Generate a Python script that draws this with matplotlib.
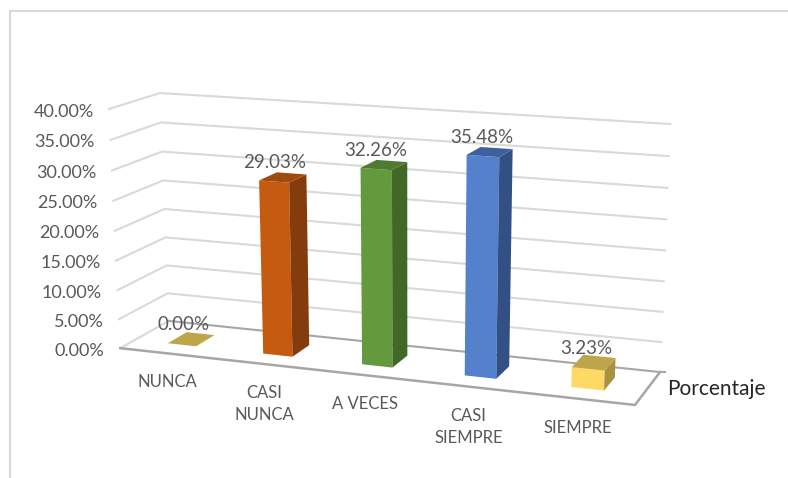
import numpy as np
import matplotlib
matplotlib.use('Agg')
import matplotlib.pyplot as plt
from matplotlib.patches import Polygon

plt.rcParams['font.family'] = ['Lato', 'DejaVu Sans']

# Datos del gráfico
categorias = ['NUNCA', 'CASI\nNUNCA', 'A VECES', 'CASI\nSIEMPRE', 'SIEMPRE']
valores = [0.00, 29.03, 32.26, 35.48, 3.23]
etiquetas = ['0.00%', '29.03%', '32.26%', '35.48%', '3.23%']
ticks_y = [0, 5, 10, 15, 20, 25, 30, 35, 40]
color_frente = ['#FFD966', '#C55A11', '#639A3D', '#5480CC', '#FFD966']
color_lado = ['#A8923F', '#843C0C', '#426827', '#325083', '#A8923F']
color_techo = ['#BFA54A', '#A04A0D', '#4D7B30', '#3E609F', '#BFA54A']
desplaza_cat = [0, -0.5, -0.5, -1.5, -1.5]

# Esquinas de la caja 3D: (categoria, valor, profundidad) -> pixel, para ajustar la camara
caja = [(0, 0, 0), (5, 0, 0), (0, 0, 1), (5, 0, 1), (0, 40, 0), (0, 40, 1), (5, 40, 1),
        (0, 20, 0), (0, 20, 1), (5, 20, 1)]
pixeles = [(120, 348), (635, 405), (169, 321), (660, 372), (109, 109), (160, 93), (670, 124),
           (115, 231), (164, 209), (665, 250.5)]

# Ajuste de la matriz de proyeccion por minimos cuadrados
A, b = [], []
for (c, v, z), (px, py) in zip(caja, pixeles):
    A.append([c, v, z, 1, 0, 0, 0, 0, -px * c, -px * v, -px * z])
    b.append(px)
    A.append([0, 0, 0, 0, c, v, z, 1, -py * c, -py * v, -py * z])
    b.append(py)
m = np.linalg.lstsq(np.array(A, float), np.array(b, float), rcond=None)[0]
P = np.append(m, 1).reshape(3, 4)


def proy(c, v, z):
    x, y, w = P @ np.array([c, v, z, 1.0])
    return x / w, y / w


fig = plt.figure(figsize=(7.88, 4.78), dpi=100)
ax = fig.add_axes([0, 0, 1, 1])
ax.set_xlim(0, 788)
ax.set_ylim(478, 0)
ax.axis('off')

# Marco exterior (solo arriba e izquierda)
ax.plot([10.5, 10.5, 788], [478, 10.5, 10.5], color='#D9D9D9', lw=1.5)

# Rejilla
for t in ticks_y:
    color = '#A6A6A6' if t == 0 else '#D9D9D9'
    pts = [proy(0, t, 0), proy(0, t, 1), proy(5, t, 1)]
    if t == 0:
        ax.plot(*zip(*pts[:2]), color='#D9D9D9', lw=1.5, zorder=1)
        ax.plot(*zip(*pts[1:]), color=color, lw=1.5, zorder=1)
    else:
        ax.plot(*zip(*pts), color=color, lw=1.5, zorder=1)
    x, y = proy(0, t, 0)
    ax.text(x - 15.5, y + 2.5, f'{t:.2f}%', ha='right', va='center', fontsize=13, color='#595959')

# Suelo
ax.plot(*zip(proy(0, 0, 0), proy(5, 0, 0), proy(5, 0, 1)), color='#A6A6A6', lw=1.8, zorder=1)
xf, yf = proy(5, 0, 1)
ax.plot([xf, xf + 5], [yf, yf], color='#A6A6A6', lw=1.5, zorder=1)

# Barras
ancho, z0, z1 = 0.3, 0.3, 0.7
for i, val in enumerate(valores):
    c0, c1 = i + 0.5 - ancho / 2, i + 0.5 + ancho / 2
    if val > 0:
        ax.add_patch(Polygon([proy(c0, 0, z0), proy(c1, 0, z0), proy(c1, val, z0), proy(c0, val, z0)],
                             fc=color_frente[i], ec='none', zorder=3))
        ax.add_patch(Polygon([proy(c1, 0, z0), proy(c1, 0, z1), proy(c1, val, z1), proy(c1, val, z0)],
                             fc=color_lado[i], ec='none', zorder=3))
    ax.add_patch(Polygon([proy(c0, val, z0), proy(c1, val, z0), proy(c1, val, z1), proy(c0, val, z1)],
                         fc=color_techo[i], ec='none', zorder=3))
    x, y = proy(i + 0.5, val, 0.5)
    ax.text(x - 8, y - 14.5, etiquetas[i], ha='center', va='center', fontsize=13.5, color='#595959', zorder=4)

# Etiquetas de categorias
for i, cat in enumerate(categorias):
    x, y = proy(i + 0.5, 0, 0)
    ax.text(x + desplaza_cat[i], y + 21, cat, ha='center', va='top', fontsize=12, color='#595959',
            linespacing=1.45)

ax.text(667, 389, 'Porcentaje', ha='left', va='center', fontsize=15, color='#262626')

fig.savefig('out.png', dpi=100)
